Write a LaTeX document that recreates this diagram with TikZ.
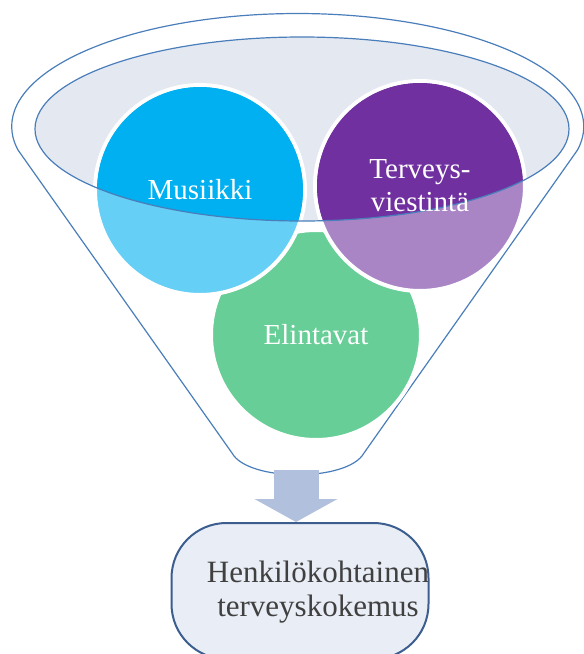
\documentclass[tikz,border=0pt]{standalone}
\usepackage{fontspec}
\setmainfont{Liberation Serif}
\usetikzlibrary{arrows.meta}

\definecolor{funnelline}{HTML}{4A7EBB}
\definecolor{rimfill}{HTML}{E4E8F1}
\definecolor{musiikkisat}{HTML}{00B0F0}
\definecolor{musiikkilight}{HTML}{66CFF5}
\definecolor{terveyssat}{HTML}{7030A0}
\definecolor{terveyslight}{HTML}{A985C6}
\definecolor{elintavatlight}{HTML}{66CE96}
\definecolor{arrowfill}{HTML}{B1C1DD}
\definecolor{boxfill}{HTML}{E9EDF5}
\definecolor{boxline}{HTML}{3B5E8F}
\definecolor{boxtext}{HTML}{404040}

\begin{document}
\begin{tikzpicture}[
    x=1pt, y=-1pt,
    bubble/.style={circle, draw=white, line width=4pt, minimum size=210pt, inner sep=0pt},
    bubbletext/.style={text=white, font=\fontsize{29}{33}\selectfont, align=center},
    funnel/.style={draw=funnelline, line width=1.2pt},
    result/.style={rectangle, draw=boxline, line width=2pt, fill=boxfill, rounded corners=55pt, minimum width=257pt, minimum height=136pt},
    flow/.style={draw=arrowfill, line width=45pt, -{Triangle[length=23pt, width=82pt]}}
]
    \clip (0,0) rectangle (584,654);

    % Funnel body and rim
    \draw[funnel, fill=white] (18,150) arc[start angle=168, end angle=372, x radius=286, y radius=113]
        -- (364,453) .. controls (348,482) and (248,482) .. (232,453) -- cycle;
    \fill[rimfill] (302,129) ellipse[x radius=267, y radius=92];
    \coordinate (funnelbottom) at (296,470);

    % Circles
    \node[bubble, fill=elintavatlight] (elintavat) at (316,335) {};
    \node[bubble, fill=musiikkilight] (musiikki) at (200,190) {};
    \node[bubble, fill=terveyslight] (terveys) at (420,186) {};

    % Upper parts inside the rim
    \begin{scope}
        \clip (302,129) ellipse[x radius=267, y radius=92];
        \fill[musiikkisat] (musiikki) circle[radius=103];
        \fill[terveyssat] (terveys) circle[radius=103];
    \end{scope}
    \draw[funnel] (302,129) ellipse[x radius=267, y radius=92];

    % Labels
    \node[bubbletext] (musiikkiteksti) at (musiikki) {Musiikki};
    \node[bubbletext] (terveysteksti) at (terveys) {Terveys-\\viestintä};
    \node[bubbletext] (elintavatteksti) at (elintavat) {Elintavat};

    % Result
    \node[result] (kokemus) at (300,591) {};
    \node[font=\fontsize{31}{34}\selectfont, text=boxtext, align=center] (kokemusteksti) at (318,592) {Henkilökohtainen\\terveyskokemus};

    % Arrow
    \draw[flow] (funnelbottom) -- (funnelbottom |- kokemus.north);
\end{tikzpicture}
\end{document}
